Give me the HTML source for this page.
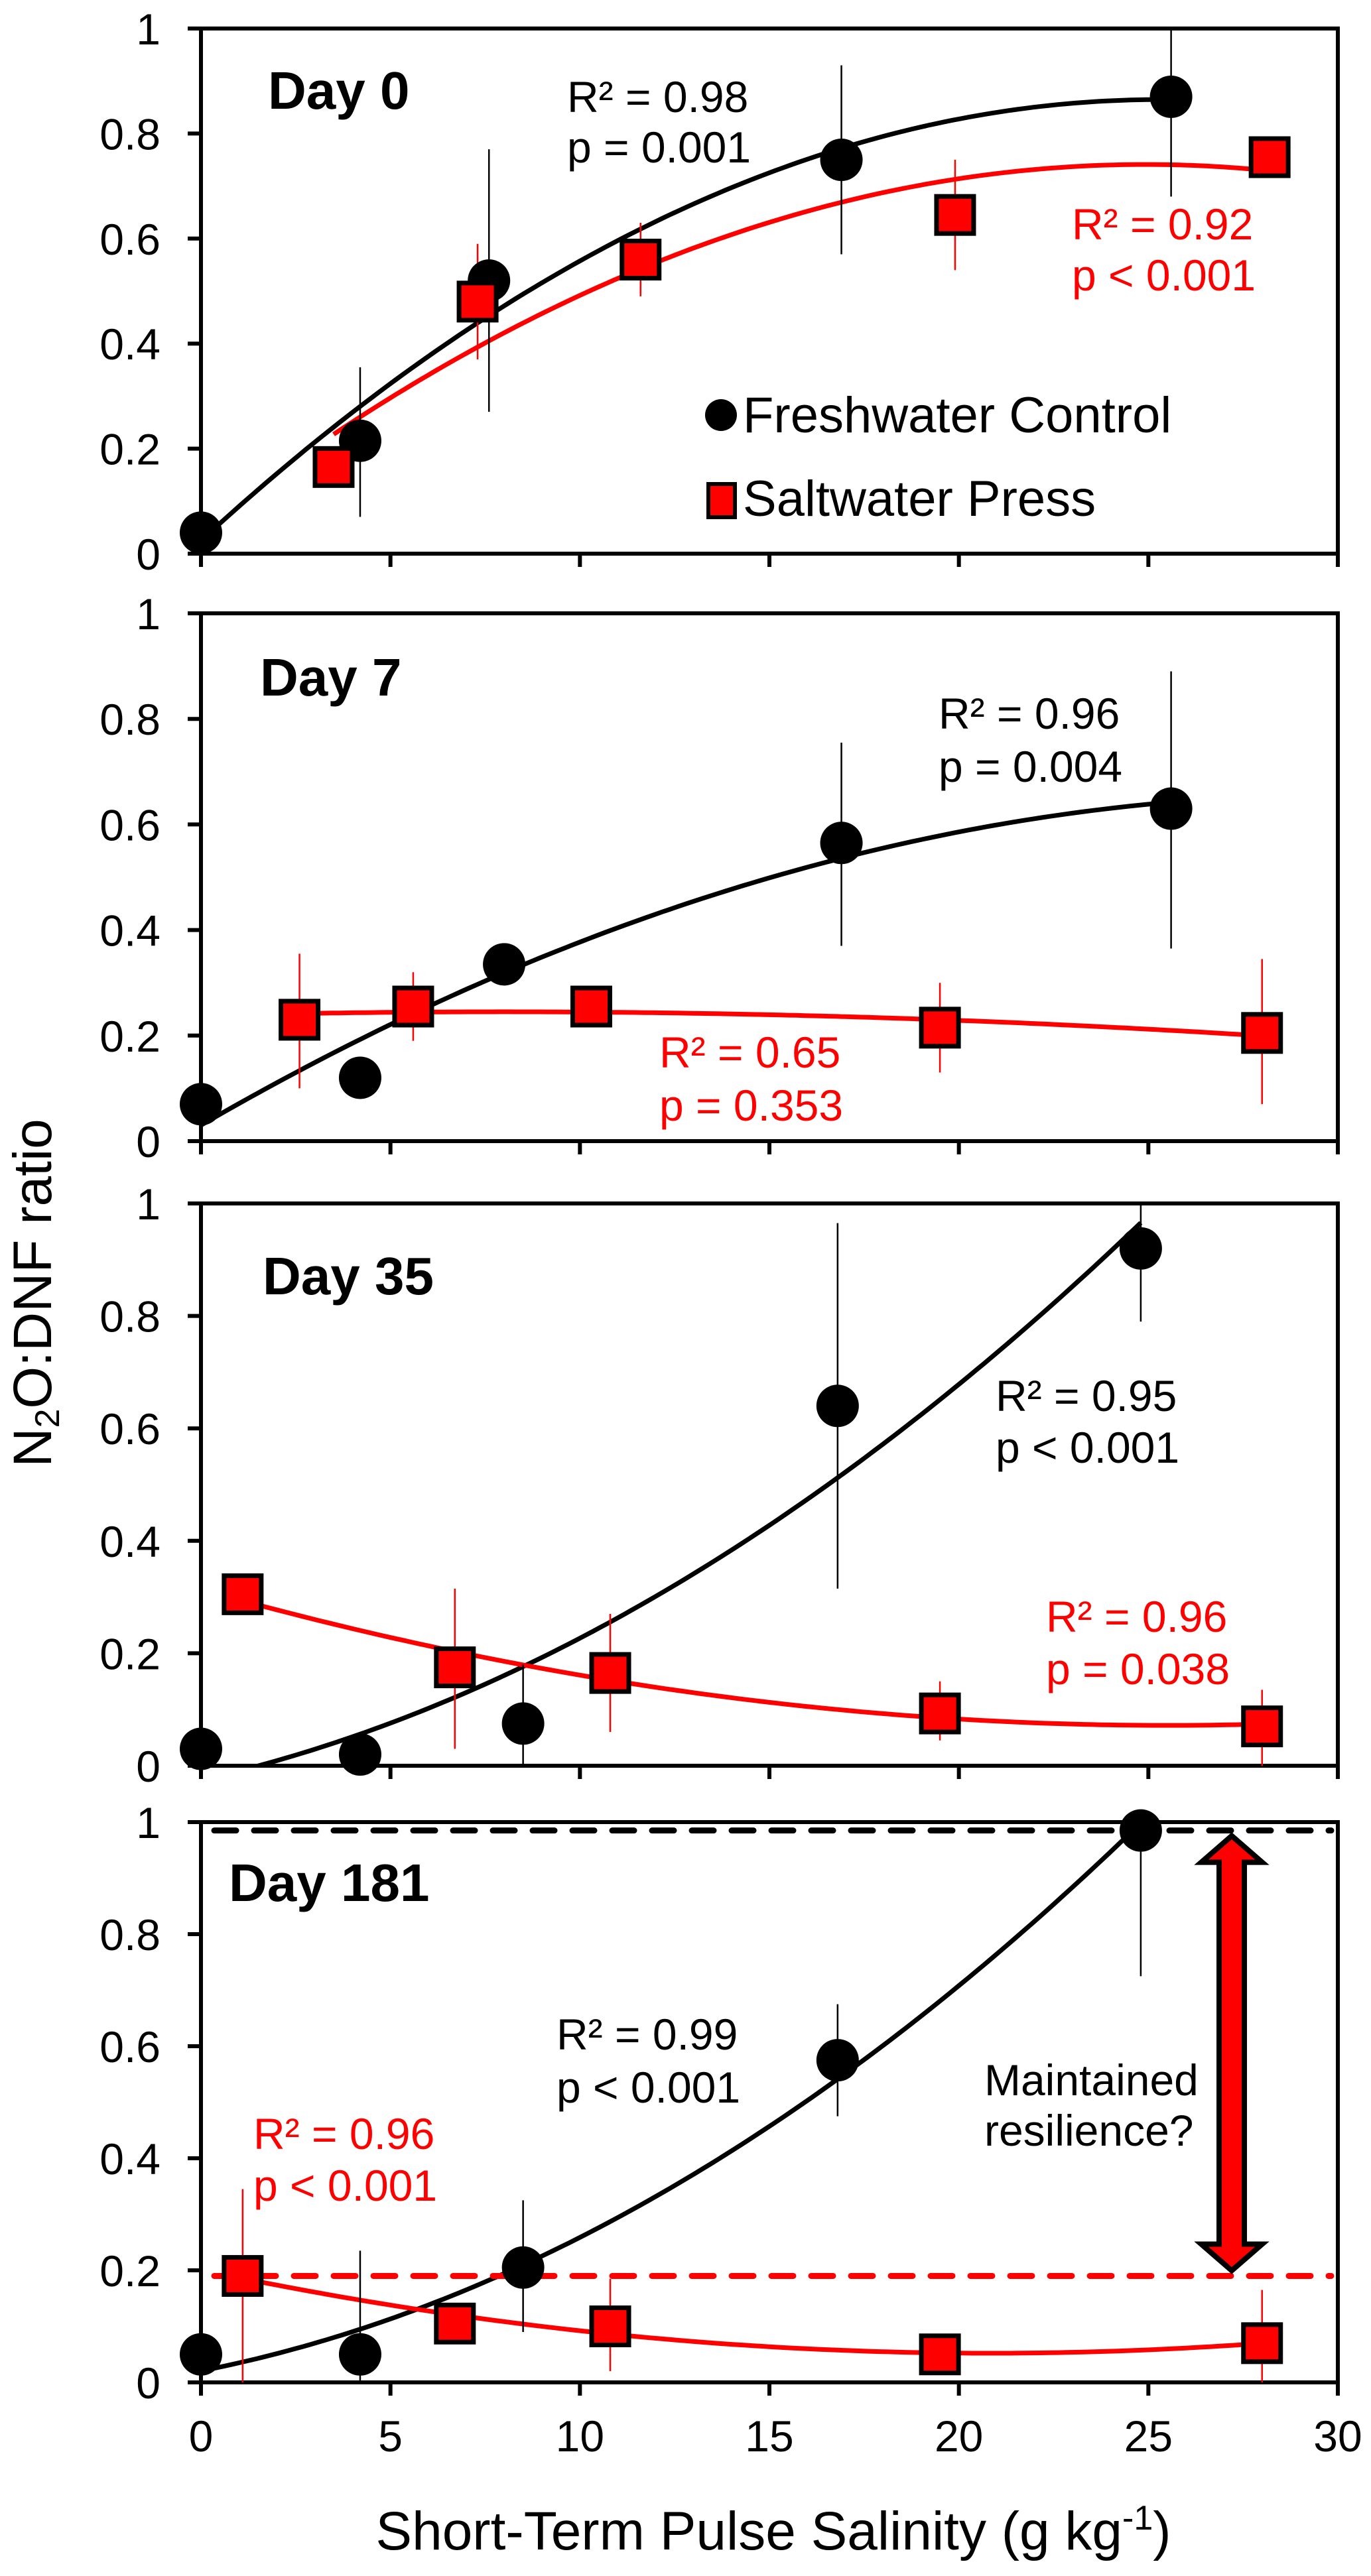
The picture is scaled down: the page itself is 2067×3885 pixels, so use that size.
<!DOCTYPE html>
<html><head><meta charset="utf-8"><style>html,body{margin:0;padding:0;background:#fff}svg{display:block}</style></head>
<body>
<svg id="chart" width="2067" height="3885" viewBox="0 0 2067 3885" xmlns="http://www.w3.org/2000/svg" font-family="Liberation Sans, Arial, sans-serif">
<text transform="translate(77,1950) rotate(-90)" text-anchor="middle" font-size="82">N<tspan font-size="52" dy="12">2</tspan><tspan dy="-12">O:DNF ratio</tspan></text>
<text x="1166" y="3845" text-anchor="middle" font-size="82">Short-Term Pulse Salinity (g kg<tspan font-size="52" dy="-30">-1</tspan><tspan dy="30">)</tspan></text>
</svg>
<script>
// Panel data
const panelDays = ["Day 0", "Day 7", "Day 35", "Day 181"];
const fwX = [[0,4.2,7.6,16.9,25.6],[0,4.2,8.0,16.9,25.6],[0,4.2,8.5,16.8,24.8],[0,4.2,8.5,16.8,24.8]];
const fwY = [[0.04,0.215,0.52,0.75,0.87],[0.07,0.12,0.335,0.565,0.63],[0.03,0.02,0.075,0.64,0.92],[0.05,0.05,0.205,0.575,0.985]];
const fwLo = [[null,0.07,0.27,0.57,0.68],[null,null,null,0.37,0.365],[null,null,0,0.315,0.79],[null,0,0.09,0.475,0.725]];
const fwHi = [[null,0.355,0.77,0.93,1.0],[null,null,null,0.755,0.89],[null,null,0.18,0.965,1.0],[null,0.235,0.325,0.675,1.0]];
const swX = [[3.5,7.3,11.6,19.9,28.2],[2.6,5.6,10.3,19.5,28.0],[1.1,6.7,10.8,19.5,28.0],[1.1,6.7,10.8,19.5,28.0]];
const swY = [[0.165,0.48,0.56,0.645,0.755],[0.23,0.255,0.255,0.215,0.205],[0.305,0.175,0.165,0.093,0.07],[0.19,0.105,0.1,0.05,0.07]];
const swLo = [[null,0.37,0.49,0.54,null],[0.1,0.19,null,0.13,0.07],[null,0.03,0.06,0.045,0],[0,null,0.02,null,0]];
const swHi = [[null,0.59,0.63,0.75,null],[0.355,0.32,null,0.3,0.345],[null,0.315,0.27,0.15,0.135],[0.345,null,0.185,null,0.165]];
const fwStats = [["R² = 0.98","p = 0.001"],["R² = 0.96","p = 0.004"],["R² = 0.95","p < 0.001"],["R² = 0.99","p < 0.001"]];
const swStats = [["R² = 0.92","p < 0.001"],["R² = 0.65","p = 0.353"],["R² = 0.96","p = 0.038"],["R² = 0.96","p < 0.001"]];
const yTicks = [0,0.2,0.4,0.6,0.8,1];
const yTickLabels = ["0","0.2","0.4","0.6","0.8","1"];
const xTicks = [0,5,10,15,20,25,30];
const refLines = [0.985, 0.19];

// layout (not data)
const panelTop = [43, 925, 1815, 2748];
const panelBot = [835, 1721, 2663, 3593];
const fwLab = [[855,169,245],[1415,1099,1179],[1501,2128,2206],[839,3091,3171]];
const swLab = [[1616,361,438],[994,1610,1690],[1577,2461,2540],[382,3241,3319]];
const dayLab = [[404,164],[392,1049],[396,1952],[345,2867]];

const X0=303, X1=2017;
const sx = v => X0 + v*(X1-X0)/30;
const svg = document.getElementById('chart');
const NS = 'http://www.w3.org/2000/svg';
function mk(tag, attrs, parent){const e=document.createElementNS(NS,tag);for(const k in attrs)e.setAttribute(k,attrs[k]);(parent||svg).appendChild(e);return e;}
function txt(s,attrs,parent){const e=mk('text',attrs,parent);e.textContent=s;return e;}

function quadFit(xs, ys){
  let n=xs.length,S=[0,0,0,0,0],T=[0,0,0];
  for(let i=0;i<n;i++){let p=1;for(let k=0;k<5;k++){S[k]+=p;if(k<3)T[k]+=p*ys[i];p*=xs[i];}}
  const A=[[S[0],S[1],S[2],T[0]],[S[1],S[2],S[3],T[1]],[S[2],S[3],S[4],T[2]]];
  for(let i=0;i<3;i++){for(let j=i+1;j<3;j++){const f=A[j][i]/A[i][i];for(let k=i;k<4;k++)A[j][k]-=f*A[i][k];}}
  const c=[0,0,0];
  for(let i=2;i>=0;i--){let s=A[i][3];for(let k=i+1;k<3;k++)s-=A[i][k]*c[k];c[i]=s/A[i][i];}
  return c;
}

for(let p=0;p<4;p++){
  const top=panelTop[p], bot=panelBot[p];
  const sy = v => bot - v*(bot-top);
  const g = mk('g',{});
  
  
  const clip = mk('clipPath',{id:'clip'+p},g);
  mk('rect',{x:X0,y:top,width:X1-X0,height:bot-top},clip);
  // frame
  const fr = mk('rect',{x:X0,y:top,width:X1-X0,height:bot-top,fill:'none',stroke:'#000','stroke-width':6},g);
  
  
  // y ticks
  for(let i=0;i<yTicks.length;i++){
    const y=sy(yTicks[i]);
    mk('line',{x1:X0-20,x2:X0,y1:y,y2:y,stroke:'#000','stroke-width':6},g);
    const t=txt(yTickLabels[i],{x:242,y:y+24,'text-anchor':'end','font-size':66},g);
    
    
  }
  // x ticks
  for(let i=0;i<xTicks.length;i++){
    const x=sx(xTicks[i]);
    mk('line',{x1:x,x2:x,y1:bot,y2:bot+20,stroke:'#000','stroke-width':6},g);
    if(p===3){
      const t=txt(String(xTicks[i]),{x:x,y:3697,'text-anchor':'middle','font-size':66},g);
      
      
    }
  }
  const cg = mk('g',{'clip-path':'url(#clip'+p+')'},g);
  // reference lines in day 181
  if(p===3){
    const l1=mk('line',{x1:X0+20,x2:X1-10,y1:sy(refLines[0]),y2:sy(refLines[0]),stroke:'#000','stroke-width':9,'stroke-dasharray':'33 27','stroke-linecap':'round'},g);
    
    
    const l2=mk('line',{x1:X0+20,x2:X1-10,y1:sy(refLines[1]),y2:sy(refLines[1]),stroke:'#f00','stroke-width':9,'stroke-dasharray':'33 27','stroke-linecap':'round'},g);
    
    
  }
  // fit curves
  function curve(xs,ys,col,name){
    const c=quadFit(xs,ys); let d='';
    const a=xs[0], b=xs[xs.length-1];
    for(let i=0;i<=120;i++){const x=a+(b-a)*i/120;const y=c[0]+c[1]*x+c[2]*x*x;d+=(i?'L':'M')+sx(x).toFixed(1)+' '+sy(y).toFixed(1);}
    const pth=mk('path',{d:d,fill:'none',stroke:col,'stroke-width':7},cg);
    
    
  }
  curve(fwX[p],fwY[p],'#000','freshwater-fit-curve');
  curve(swX[p],swY[p],'#f00','saltwater-fit-curve');
  // error bars
  for(let i=0;i<5;i++){
    if(fwLo[p][i]!==null){
      const e=mk('line',{x1:sx(fwX[p][i]),x2:sx(fwX[p][i]),y1:sy(fwLo[p][i]),y2:sy(fwHi[p][i]),stroke:'#000','stroke-width':2.5},g);
      
      
    }
    if(swLo[p][i]!==null){
      const e=mk('line',{x1:sx(swX[p][i]),x2:sx(swX[p][i]),y1:sy(swLo[p][i]),y2:sy(swHi[p][i]),stroke:'#f00','stroke-width':2.5},g);
      
      
    }
  }
  // markers
  for(let i=0;i<5;i++){
    const c=mk('circle',{cx:sx(fwX[p][i]),cy:sy(fwY[p][i]),r:32,fill:'#000'},g);
    
    
  }
  for(let i=0;i<5;i++){
    const r=mk('rect',{x:sx(swX[p][i])-28,y:sy(swY[p][i])-28,width:56,height:56,fill:'#f00',stroke:'#000','stroke-width':7},g);
    
    
  }
  // labels
  const dl=txt(panelDays[p],{x:dayLab[p][0],y:dayLab[p][1],'font-size':80,'font-weight':'bold'},g);
  
  
  for(let k=0;k<2;k++){
    const a=txt(fwStats[p][k],{x:fwLab[p][0],y:fwLab[p][1+k],'font-size':66,fill:'#000'},g);
    
    
    const b=txt(swStats[p][k],{x:swLab[p][0],y:swLab[p][1+k],'font-size':66,fill:'#f00'},g);
    
    
  }
  if(p===0){
    const lc=mk('circle',{cx:1087,cy:626,r:24,fill:'#000'},g);
    
    
    const lt=txt('Freshwater Control',{x:1120,y:652,'font-size':76},g);
    
    
    const lr=mk('rect',{x:1068,y:730,width:40,height:50,fill:'#f00',stroke:'#000','stroke-width':6},g);
    
    
    const lt2=txt('Saltwater Press',{x:1120,y:778,'font-size':76},g);
    
    
  }
  if(p===3){
    const ax=sx(27.2), yt=sy(refLines[0])+8, yb=sy(refLines[1])-8, hw=46, sw=19, hh=40;
    const d=`M${ax} ${yt} L${ax+hw} ${yt+hh} L${ax+sw} ${yt+hh} L${ax+sw} ${yb-hh} L${ax+hw} ${yb-hh} L${ax} ${yb} L${ax-hw} ${yb-hh} L${ax-sw} ${yb-hh} L${ax-sw} ${yt+hh} L${ax-hw} ${yt+hh} Z`;
    const ar=mk('path',{d:d,fill:'#f00',stroke:'#000','stroke-width':8,'stroke-linejoin':'miter'},g);
    
    
    const m1=txt('Maintained',{x:1484,y:3160,'font-size':66},g);
    
    
    const m2=txt('resilience?',{x:1484,y:3236,'font-size':66},g);
    
    
  }
}
</script>
</body></html>
